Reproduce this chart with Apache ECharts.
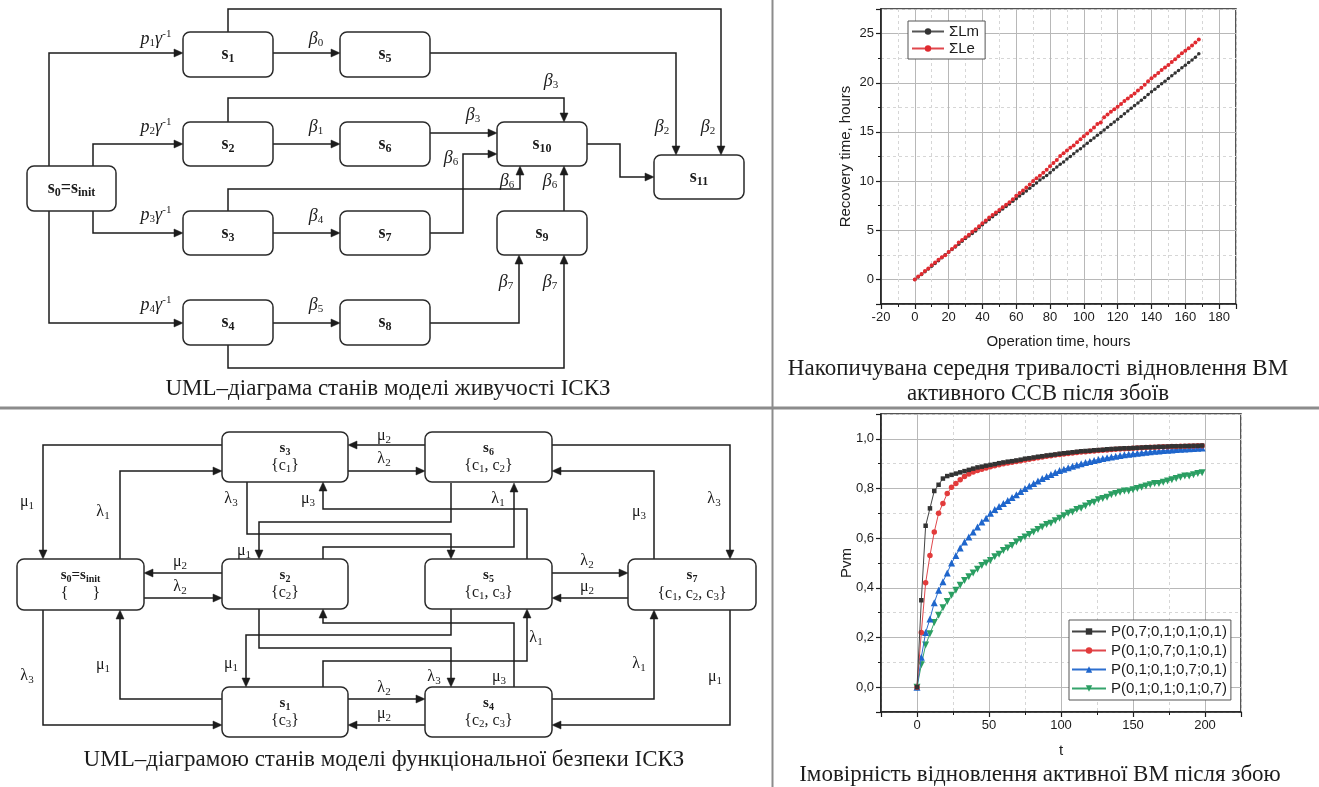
<!DOCTYPE html>
<html>
<head>
<meta charset="utf-8">
<script src="https://cdn.jsdelivr.net/npm/echarts@6/dist/echarts.min.js"></script>
<style>
  html, body { margin: 0; padding: 0; background: #fff; }
  #main { width: 1319px; height: 787px; }
</style>
</head>
<body>
<div id="main"></div>
<script>
// ---------- Cumulative mean recovery time of the active VM ----------
const opHours = [0,2,4,6,8,10,12,14,16,18,20,22,24,26,28,30,32,34,36,38,40,42,44,46,48,50,52,54,56,58,60,62,64,66,68,70,72,74,76,78,80,82,84,86,88,90,92,94,96,98,100,102,104,106,108,110,112,114,116,118,120,122,124,126,128,130,132,134,136,138,140,142,144,146,148,150,152,154,156,158,160,162,164,166,168];
const sumLm = [0,0.25,0.5,0.78,1.05,1.35,1.62,1.9,2.2,2.5,
  2.78,3.05,3.3,3.58,3.88,4.15,4.42,4.68,4.92,5.25,
  5.55,5.85,6.1,6.38,6.62,6.9,7.15,7.42,7.68,7.95,
  8.2,8.48,8.75,9.0,9.28,9.55,9.8,10.1,10.35,10.58,
  10.85,11.15,11.42,11.7,11.95,12.25,12.5,12.78,13.05,13.3,
  13.58,13.85,14.12,14.38,14.65,14.92,15.2,15.48,15.75,16.02,
  16.3,16.58,16.85,17.12,17.4,17.68,17.95,18.22,18.5,18.8,
  19.08,19.35,19.62,19.9,20.15,20.42,20.7,20.98,21.25,21.52,
  21.78,22.05,22.32,22.6,22.95];
const sumLe = [0,0.3,0.55,0.85,1.1,1.45,1.72,2.0,2.25,2.45,
  2.8,3.1,3.38,3.75,4.0,4.3,4.55,4.85,5.1,5.4,
  5.72,6.0,6.3,6.55,6.8,7.05,7.35,7.6,7.85,8.15,
  8.5,8.78,9.05,9.35,9.65,10.0,10.3,10.55,10.85,11.15,
  11.5,11.85,12.15,12.55,12.82,13.1,13.38,13.62,13.95,14.25,
  14.55,14.85,15.15,15.45,15.8,15.95,16.5,16.78,17.05,17.3,
  17.55,17.85,18.15,18.4,18.65,18.9,19.2,19.5,19.8,20.15,
  20.45,20.7,21.0,21.3,21.55,21.8,22.1,22.4,22.7,23.0,
  23.25,23.5,23.8,24.1,24.4];
const recoveryNames = ['ΣLm', 'ΣLe'];

// ---------- Probability of active VM recovery after a failure ----------
const tValues = [0,3,6,9,12,15,18,21,24,27,30,33,36,39,42,45,48,51,54,57,60,63,66,69,72,75,78,81,84,87,90,93,96,99,102,105,108,111,114,117,120,123,126,129,132,135,138,141,144,147,150,153,156,159,162,165,168,171,174,177,180,183,186,189,192,195,198];
const pNames = ['P(0,7;0,1;0,1;0,1)', 'P(0,1;0,7;0,1;0,1)', 'P(0,1;0,1;0,7;0,1)', 'P(0,1;0,1;0,1;0,7)'];
const pFirst = [0,0.35,0.65,0.72,0.79,0.815,0.84,0.85,0.855,0.86,
  0.865,0.87,0.875,0.88,0.885,0.888,0.892,0.895,0.898,0.902,
  0.905,0.908,0.91,0.913,0.916,0.92,0.922,0.925,0.928,0.93,
  0.933,0.935,0.937,0.94,0.942,0.944,0.946,0.948,0.95,0.951,
  0.952,0.954,0.955,0.956,0.958,0.959,0.96,0.961,0.962,0.962,
  0.963,0.964,0.965,0.966,0.966,0.967,0.968,0.968,0.969,0.97,
  0.97,0.97,0.971,0.971,0.972,0.972,0.973];
const pSecond = [0,0.22,0.42,0.53,0.625,0.70,0.74,0.78,0.805,0.82,
  0.835,0.848,0.858,0.866,0.872,0.878,0.883,0.888,0.892,0.896,
  0.9,0.903,0.906,0.909,0.912,0.915,0.918,0.921,0.924,0.927,
  0.93,0.932,0.935,0.937,0.939,0.941,0.943,0.945,0.947,0.948,
  0.95,0.951,0.953,0.954,0.955,0.957,0.958,0.959,0.96,0.961,
  0.962,0.963,0.964,0.965,0.966,0.966,0.967,0.968,0.968,0.969,
  0.969,0.97,0.97,0.971,0.971,0.972,0.972];
const pThird = [0,0.12,0.22,0.275,0.34,0.39,0.425,0.46,0.50,0.53,
  0.56,0.585,0.605,0.625,0.645,0.665,0.68,0.70,0.715,0.728,
  0.74,0.752,0.764,0.775,0.788,0.80,0.81,0.82,0.83,0.84,
  0.848,0.856,0.864,0.872,0.878,0.884,0.89,0.895,0.9,0.905,
  0.909,0.913,0.917,0.921,0.924,0.927,0.93,0.933,0.936,0.938,
  0.94,0.942,0.944,0.946,0.948,0.95,0.951,0.953,0.954,0.955,
  0.957,0.958,0.959,0.96,0.961,0.962,0.963];
const pFourth = [0,0.09,0.17,0.215,0.26,0.29,0.32,0.345,0.37,0.39,
  0.41,0.43,0.445,0.46,0.475,0.49,0.50,0.51,0.525,0.535,
  0.55,0.56,0.57,0.585,0.595,0.605,0.615,0.625,0.635,0.645,
  0.655,0.66,0.67,0.68,0.69,0.70,0.705,0.715,0.72,0.73,
  0.74,0.745,0.755,0.76,0.765,0.775,0.78,0.785,0.79,0.79,
  0.795,0.80,0.805,0.81,0.815,0.82,0.82,0.825,0.83,0.835,
  0.84,0.845,0.85,0.85,0.855,0.86,0.863];

// ---------- State diagram of the survivability model ----------
const survLabels = ['{b|s}{bs|0}{b|=s}{bs|init}', '{b|s}{bs|1}', '{b|s}{bs|2}', '{b|s}{bs|3}', '{b|s}{bs|4}',
  '{b|s}{bs|5}', '{b|s}{bs|6}', '{b|s}{bs|7}', '{b|s}{bs|8}', '{b|s}{bs|9}', '{b|s}{bs|10}', '{b|s}{bs|11}'];
// box corners [x1, y1, x2, y2] on the page layout
const survBoxes = [[27,166,116,211],[183,32,273,77],[183,122,273,166],[183,211,273,255],[183,300,273,345],
  [340,32,430,77],[340,122,430,166],[340,211,430,255],[340,300,430,345],
  [497,211,587,255],[497,122,587,166],[654,155,744,199]];
const survPaths = [
  [[49,166],[49,53],[183,53]],
  [[93,166],[93,144],[183,144]],
  [[93,211],[93,233],[183,233]],
  [[49,211],[49,323],[183,323]],
  [[273,53],[340,53]],
  [[273,144],[340,144]],
  [[273,233],[340,233]],
  [[273,323],[340,323]],
  [[228,32],[228,9],[721,9],[721,155]],
  [[430,53],[676,53],[676,155]],
  [[228,122],[228,98],[564,98],[564,122]],
  [[430,133],[497,133]],
  [[430,233],[463,233],[463,154],[497,154]],
  [[228,211],[228,189],[520,189],[520,166]],
  [[564,211],[564,166]],
  [[587,144],[620,144],[620,177],[654,177]],
  [[430,323],[519,323],[519,255]],
  [[228,345],[228,368],[564,368],[564,255]]
];
const survRates = [
  ['{i|p}{s|1}{i|γ}{p|-1}',156,39], ['{i|p}{s|2}{i|γ}{p|-1}',156,127],
  ['{i|p}{s|3}{i|γ}{p|-1}',156,215], ['{i|p}{s|4}{i|γ}{p|-1}',156,305],
  ['{i|β}{s|0}',316,39], ['{i|β}{s|1}',316,127], ['{i|β}{s|4}',316,216], ['{i|β}{s|5}',316,305],
  ['{i|β}{s|3}',551,81], ['{i|β}{s|3}',473,115], ['{i|β}{s|6}',451,158],
  ['{i|β}{s|6}',507,181], ['{i|β}{s|6}',550,181],
  ['{i|β}{s|2}',662,127], ['{i|β}{s|2}',708,127],
  ['{i|β}{s|7}',506,282], ['{i|β}{s|7}',550,282]
];

// ---------- State diagram of the functional safety model ----------
const safeLabels = [
  '{b|s}{bs|0}{b|=s}{bs|init}\n{n|{      }}',
  '{b|s}{bs|3}\n{n|{c}{ns|1}}',
  '{b|s}{bs|2}\n{n|{c}{ns|2}}',
  '{b|s}{bs|1}\n{n|{c}{ns|3}}',
  '{b|s}{bs|6}\n{n|{c}{ns|1}{n|, c}{ns|2}}',
  '{b|s}{bs|5}\n{n|{c}{ns|1}{n|, c}{ns|3}}',
  '{b|s}{bs|4}\n{n|{c}{ns|2}{n|, c}{ns|3}}',
  '{b|s}{bs|7}\n{n|{c}{ns|1}{n|, c}{ns|2}{n|, c}{ns|3}}'
];
const safeBoxes = [[17,559,144,610],[222,432,348,482],[222,559,348,609],[222,687,348,737],
  [425,432,552,482],[425,559,552,609],[425,687,552,737],[628,559,756,610]];
const safePaths = [
  [[222,445],[43,445],[43,559]],
  [[120,559],[120,471],[222,471]],
  [[222,573],[144,573]],
  [[144,598],[222,598]],
  [[222,699],[120,699],[120,610]],
  [[43,610],[43,725],[222,725]],
  [[425,445],[348,445]],
  [[348,471],[425,471]],
  [[348,699],[425,699]],
  [[425,725],[348,725]],
  [[552,573],[628,573]],
  [[628,598],[552,598]],
  [[552,445],[730,445],[730,559]],
  [[654,559],[654,471],[552,471]],
  [[552,699],[654,699],[654,610]],
  [[730,610],[730,725],[552,725]],
  [[247,482],[247,534],[451,534],[451,559]],
  [[527,559],[527,509],[323,509],[323,482]],
  [[451,483],[451,522],[259,522],[259,559]],
  [[323,559],[323,547],[514,547],[514,483]],
  [[451,609],[451,635],[246,635],[246,687]],
  [[323,687],[323,661],[527,661],[527,609]],
  [[259,609],[259,648],[451,648],[451,687]],
  [[514,687],[514,623],[323,623],[323,609]]
];
const safeRates = [
  ['{u|μ}{s|1}',27,502], ['{u|λ}{s|1}',103,512], ['{u|μ}{s|2}',180,562], ['{u|λ}{s|2}',180,587],
  ['{u|μ}{s|1}',103,665], ['{u|λ}{s|3}',27,676],
  ['{u|μ}{s|2}',384,436], ['{u|λ}{s|2}',384,459], ['{u|λ}{s|2}',384,688], ['{u|μ}{s|2}',384,714],
  ['{u|λ}{s|2}',587,561], ['{u|μ}{s|2}',587,587],
  ['{u|λ}{s|3}',714,499], ['{u|μ}{s|3}',639,512], ['{u|λ}{s|1}',639,664], ['{u|μ}{s|1}',715,677],
  ['{u|λ}{s|3}',231,499], ['{u|μ}{s|3}',308,499], ['{u|μ}{s|1}',244,551], ['{u|λ}{s|1}',498,499],
  ['{u|μ}{s|1}',231,664], ['{u|λ}{s|1}',536,638], ['{u|λ}{s|3}',434,677], ['{u|μ}{s|3}',499,677]
];

// ---------- drawing helpers ----------
const INK = '#1c1c1c';
const SERIF = 'Liberation Serif';
const SANS = 'Liberation Sans';

const nodeRichTop = {
  b: { fontFamily: SERIF, fontWeight: 'bold', fontSize: 18, lineHeight: 21, fill: INK },
  bs: { fontFamily: SERIF, fontWeight: 'bold', fontSize: 12, lineHeight: 12, verticalAlign: 'bottom', fill: INK }
};
const nodeRichBottom = {
  b: { fontFamily: SERIF, fontWeight: 'bold', fontSize: 15, lineHeight: 18, fill: INK },
  bs: { fontFamily: SERIF, fontWeight: 'bold', fontSize: 10, lineHeight: 10, verticalAlign: 'bottom', fill: INK },
  n: { fontFamily: SERIF, fontSize: 16, lineHeight: 18, fill: INK },
  ns: { fontFamily: SERIF, fontSize: 11, lineHeight: 11, verticalAlign: 'bottom', fill: INK }
};
const rateRich = {
  i: { fontFamily: SERIF, fontStyle: 'italic', fontSize: 18, lineHeight: 20, fill: INK },
  u: { fontFamily: SERIF, fontSize: 16, lineHeight: 19, fill: INK },
  s: { fontFamily: SERIF, fontSize: 11, lineHeight: 11, verticalAlign: 'bottom', fill: INK },
  p: { fontFamily: SERIF, fontSize: 11, lineHeight: 11, verticalAlign: 'top', fill: INK }
};

function arrowRenderer(paths) {
  return function (params, api) {
    const pts = paths[params.dataIndex].map(function (p) { return api.coord(p); });
    const n = pts.length;
    const a = pts[n - 2], b = pts[n - 1];
    const dx = b[0] - a[0], dy = b[1] - a[1];
    const len = Math.hypot(dx, dy) || 1;
    const ux = dx / len, uy = dy / len;
    const L = 9, W = 4;
    const bx = b[0] - ux * L, by = b[1] - uy * L;
    const shaft = pts.slice(0, n - 1).concat([[bx, by]]);
    return {
      type: 'group',
      children: [
        { type: 'polyline', shape: { points: shaft }, style: { stroke: INK, lineWidth: 1.5, fill: null } },
        { type: 'polygon', shape: { points: [b, [bx - uy * W, by + ux * W], [bx + uy * W, by - ux * W]] },
          style: { fill: INK, stroke: INK, lineWidth: 0.5 } }
      ]
    };
  };
}

function boxRenderer(boxes, labels, rich, base) {
  return function (params, api) {
    const bx = boxes[params.dataIndex];
    const p1 = api.coord([bx[0], bx[1]]);
    const p2 = api.coord([bx[2], bx[3]]);
    return {
      type: 'group',
      children: [
        { type: 'rect', shape: { x: p1[0], y: p1[1], width: p2[0] - p1[0], height: p2[1] - p1[1], r: 7 },
          style: { fill: '#fff', stroke: '#2a2a2a', lineWidth: 1.5 } },
        { type: 'text', x: (p1[0] + p2[0]) / 2, y: (p1[1] + p2[1]) / 2,
          style: Object.assign({ text: labels[params.dataIndex], rich: rich, align: 'center', verticalAlign: 'middle', fill: INK }, base) }
      ]
    };
  };
}

function rateRenderer(items) {
  return function (params, api) {
    const it = items[params.dataIndex];
    const p = api.coord([it[1], it[2]]);
    return { type: 'text', x: p[0], y: p[1],
      style: { text: it[0], rich: rateRich, align: 'center', verticalAlign: 'middle', fill: INK,
               fontFamily: SERIF, fontSize: 16 } };
  };
}

function diagramSeries(paths, boxes, labels, rates, rich, base) {
  return [
    { type: 'custom', xAxisIndex: 0, yAxisIndex: 0, z: 2, silent: true, encode: { x: 0, y: 1 },
      renderItem: arrowRenderer(paths), data: paths.map(function (p) { return p[p.length - 1]; }) },
    { type: 'custom', xAxisIndex: 0, yAxisIndex: 0, z: 3, silent: true, encode: { x: 0, y: 1 },
      renderItem: boxRenderer(boxes, labels, rich, base),
      data: boxes.map(function (b) { return [(b[0] + b[2]) / 2, (b[1] + b[3]) / 2]; }) },
    { type: 'custom', xAxisIndex: 0, yAxisIndex: 0, z: 4, silent: true, encode: { x: 0, y: 1 },
      renderItem: rateRenderer(rates), data: rates.map(function (r) { return [r[1], r[2]]; }) }
  ];
}

// ---------- axes ----------
const tickLabel = { fontFamily: SANS, fontSize: 13, color: INK, margin: 7 };
const nameStyle = { fontFamily: SANS, fontSize: 15, color: INK };
const majorSplit = { show: true, lineStyle: { color: '#b8b8b8', width: 1 } };
function mainAxis(grid, min, max, step, pos, fmt, extra) {
  return Object.assign({
    gridIndex: grid, type: 'value', min: min, max: max, minInterval: step, maxInterval: step, position: pos,
    axisLine: { show: true, onZero: false, lineStyle: { color: INK, width: 1.5 } },
    axisTick: { show: true, inside: false, length: 5, lineStyle: { color: INK, width: 1.2 } },
    axisLabel: Object.assign({ formatter: fmt }, tickLabel),
    splitLine: majorSplit,
    nameTextStyle: nameStyle, nameLocation: 'middle', nameMoveOverlap: false
  }, extra || {});
}
function minorAxis(grid, min, max, step, pos, colors) {
  return {
    gridIndex: grid, type: 'value', min: min, max: max, minInterval: step, maxInterval: step, position: pos,
    axisLine: { show: false, onZero: false },
    axisTick: { show: true, inside: false, length: 3, lineStyle: { color: INK, width: 1 } },
    axisLabel: { show: false },
    splitLine: { show: true, lineStyle: { color: colors, width: 1, type: [3, 3] } }
  };
}
const CLEAR = 'rgba(0,0,0,0)';
const MINOR = '#d6d6d6';

function commaDecimal(v) {
  const k = Math.round(v * 5);
  if (Math.abs(v * 5 - k) > 1e-6) return '';
  return (k / 5).toFixed(1).replace('.', ',');
}

const captionStyle = { fontFamily: SERIF, fontSize: 23, fill: INK, align: 'center', verticalAlign: 'middle' };

const option = {
  animation: false,
  backgroundColor: '#fff',
  grid: [
    { left: 0, top: 0, width: 1319, height: 787, show: false, outerBoundsMode: 'none' },
    { left: 881, top: 9, width: 355, height: 295, show: true, borderColor: INK, borderWidth: 1.5,
      backgroundColor: 'transparent', outerBoundsMode: 'none' },
    { left: 881, top: 414, width: 360, height: 298, show: true, borderColor: INK, borderWidth: 1.5,
      backgroundColor: 'transparent', outerBoundsMode: 'none' }
  ],
  xAxis: [
    { gridIndex: 0, type: 'value', min: 0, max: 1319, show: false },
    mainAxis(1, -20, 190, 20, 'bottom', function (v) { return v % 20 === 0 ? String(v) : ''; },
      { name: 'Operation time, hours', nameGap: 30 }),
    minorAxis(1, -20, 190, 10, 'bottom', [CLEAR, MINOR]),
    mainAxis(2, -25, 225, 50, 'bottom', function (v) { return v % 50 === 0 ? String(v) : ''; },
      { name: 't', nameGap: 31 }),
    minorAxis(2, -25, 225, 25, 'bottom', [MINOR, CLEAR])
  ],
  yAxis: [
    { gridIndex: 0, type: 'value', min: 0, max: 787, inverse: true, show: false },
    mainAxis(1, -2.5, 27.5, 5, 'left', function (v) { return v % 5 === 0 ? String(v) : ''; },
      { name: 'Recovery time, hours', nameGap: 28, nameRotate: 90 }),
    minorAxis(1, -2.5, 27.5, 2.5, 'left', [MINOR, CLEAR]),
    mainAxis(2, -0.1, 1.1, 0.2, 'left', commaDecimal,
      { name: 'Pvm', nameGap: 27, nameRotate: 90 }),
    minorAxis(2, -0.1, 1.1, 0.1, 'left', [MINOR, CLEAR])
  ],
  legend: [
    { data: recoveryNames, left: 908, top: 21, orient: 'vertical', itemWidth: 32, itemHeight: 8, itemGap: 2,
      padding: [3, 6, 3, 3], borderColor: '#555', borderWidth: 1, backgroundColor: '#fff', selectedMode: false,
      textStyle: { fontFamily: SANS, fontSize: 15, color: INK } },
    { data: pNames, left: 1069, top: 620, orient: 'vertical', itemWidth: 34, itemHeight: 8, itemGap: 4,
      padding: [4, 4, 4, 2], borderColor: '#555', borderWidth: 1, backgroundColor: '#fff', selectedMode: false,
      textStyle: { fontFamily: SANS, fontSize: 15, color: INK } }
  ],
  series: [
    { name: recoveryNames[0], type: 'line', xAxisIndex: 1, yAxisIndex: 1, z: 5,
      data: opHours.map(function (h, i) { return [h, sumLm[i]]; }),
      symbol: 'circle', symbolSize: 3.5, lineStyle: { color: '#555', width: 1 }, itemStyle: { color: '#333' } },
    { name: recoveryNames[1], type: 'line', xAxisIndex: 1, yAxisIndex: 1, z: 6,
      data: opHours.map(function (h, i) { return [h, sumLe[i]]; }),
      symbol: 'circle', symbolSize: 4, lineStyle: { color: '#e0474c', width: 1 }, itemStyle: { color: '#e02a30' } },
    { name: pNames[0], type: 'line', xAxisIndex: 3, yAxisIndex: 3, z: 8,
      data: tValues.map(function (t, i) { return [t, pFirst[i]]; }),
      symbol: 'rect', symbolSize: 4.5, lineStyle: { color: '#444', width: 1 }, itemStyle: { color: '#333' } },
    { name: pNames[1], type: 'line', xAxisIndex: 3, yAxisIndex: 3, z: 7,
      data: tValues.map(function (t, i) { return [t, pSecond[i]]; }),
      symbol: 'circle', symbolSize: 5.5, lineStyle: { color: '#e0474c', width: 1 }, itemStyle: { color: '#e23b3b' } },
    { name: pNames[2], type: 'line', xAxisIndex: 3, yAxisIndex: 3, z: 6,
      data: tValues.map(function (t, i) { return [t, pThird[i]]; }),
      symbol: 'triangle', symbolSize: 7, lineStyle: { color: '#2d6fcf', width: 1 }, itemStyle: { color: '#1f66cc' } },
    { name: pNames[3], type: 'line', xAxisIndex: 3, yAxisIndex: 3, z: 5,
      data: tValues.map(function (t, i) { return [t, pFourth[i]]; }),
      symbol: 'triangle', symbolRotate: 180, symbolSize: 7, lineStyle: { color: '#35a46c', width: 1 }, itemStyle: { color: '#2a9e62' } }
  ].concat(
    diagramSeries(survPaths, survBoxes, survLabels, survRates, nodeRichTop,
      { fontFamily: SERIF, fontWeight: 'bold', fontSize: 18 }),
    diagramSeries(safePaths, safeBoxes, safeLabels, safeRates, nodeRichBottom,
      { fontFamily: SERIF, fontSize: 16, lineHeight: 18 })
  ),
  graphic: [
    { type: 'line', silent: true, shape: { x1: 772.5, y1: 0, x2: 772.5, y2: 787 }, style: { stroke: '#8c8c8c', lineWidth: 2 } },
    { type: 'line', silent: true, shape: { x1: 0, y1: 408, x2: 1319, y2: 408 }, style: { stroke: '#8c8c8c', lineWidth: 3 } },
    { type: 'text', silent: true, x: 388, y: 389,
      style: Object.assign({ text: 'UML–діаграма станів моделі живучості ІСКЗ' }, captionStyle) },
    { type: 'text', silent: true, x: 1038, y: 369,
      style: Object.assign({ text: 'Накопичувана середня тривалості відновлення ВМ' }, captionStyle) },
    { type: 'text', silent: true, x: 1038, y: 394,
      style: Object.assign({ text: 'активного ССВ після збоїв' }, captionStyle) },
    { type: 'text', silent: true, x: 384, y: 760,
      style: Object.assign({ text: 'UML–діаграмою станів моделі функціональної безпеки ІСКЗ' }, captionStyle) },
    { type: 'text', silent: true, x: 1040, y: 775,
      style: Object.assign({ text: 'Імовірність відновлення активної ВМ після збою' }, captionStyle) }
  ]
};

const chart = echarts.init(document.getElementById('main'));
chart.setOption(option);
</script>
</body>
</html>
